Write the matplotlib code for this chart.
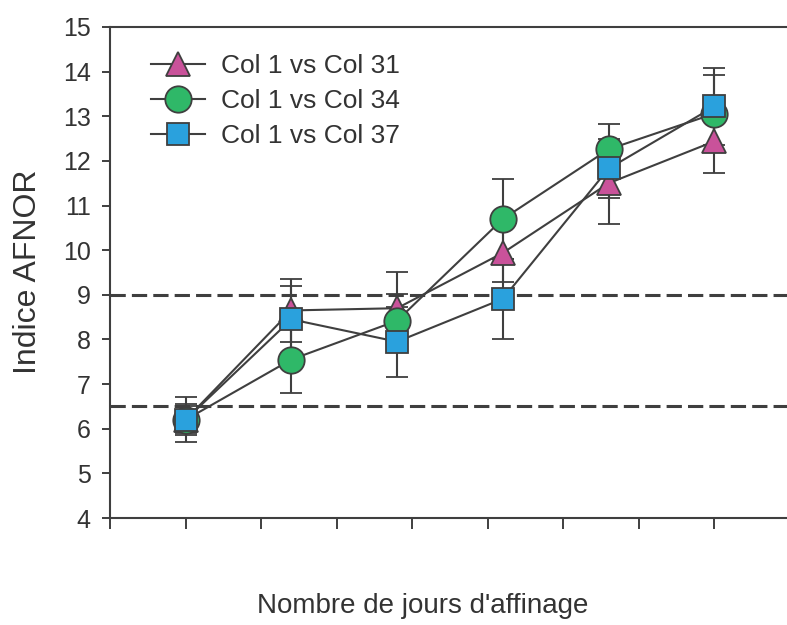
import matplotlib.pyplot as plt

plt.rcParams['font.family'] = ['Liberation Sans', 'DejaVu Sans']

# jours d'affinage
jours = [5, 12, 19, 26, 33, 40]

# indice AFNOR moyen et écart-type par essai
col31 = [6.2, 8.65, 8.7, 9.94, 11.5, 12.44]
col31_err = [0.3, 0.7, 0.8, 0.65, 0.92, 0.72]
col34 = [6.2, 7.55, 8.42, 10.7, 12.26, 13.06]
col34_err = [0.35, 0.75, 0.6, 0.9, 0.56, 0.87]
col37 = [6.2, 8.45, 7.95, 8.91, 11.83, 13.22]
col37_err = [0.5, 0.75, 0.78, 0.9, 0.67, 0.87]

labels = ["Col 1 vs Col 31", "Col 1 vs Col 34", "Col 1 vs Col 37"]
seuils = [9, 6.5]

gris = "#3f3f3f"
fig = plt.figure(figsize=(7.87, 6.25), dpi=100)
ax = fig.add_axes([0.1398, 0.1712, 0.864, 0.7856])

for y in seuils:
    ax.axhline(y, color=gris, lw=2.2, dashes=(5, 2), zorder=1)

series = [
    (col31, col31_err, "^", "#c9529a", 17),
    (col34, col34_err, "o", "#2fb868", 19),
    (col37, col37_err, "s", "#2aa1dd", 16),
]
for (vals, err, mk, coul, ms), lab in zip(series, labels):
    ax.errorbar(jours, vals, yerr=err, fmt="-", color=gris, lw=1.5,
                marker=mk, ms=ms, mfc=coul, mec=gris, mew=1.3,
                ecolor=gris, elinewidth=1.5, capsize=8, capthick=1.5,
                label=lab, zorder=3)

ax.set_xlim(0, 45)
ax.set_ylim(4, 15)
ax.set_yticks(range(4, 16))
ax.set_xticks(range(0, 46, 5))
ax.set_xticklabels([])
ax.tick_params(axis="y", labelsize=18, labelcolor="#333333", color=gris,
               direction="out", length=6, width=1.4, pad=8)
ax.tick_params(axis="x", color=gris, direction="out", length=8, width=1.4)
for s in ["left", "bottom", "top"]:
    ax.spines[s].set_color(gris)
    ax.spines[s].set_linewidth(1.5)
ax.spines["right"].set_visible(False)

handles, labs = ax.get_legend_handles_labels()
handles = [h[0] for h in handles]
leg = ax.legend(handles, labs, loc="upper left", bbox_to_anchor=(0.045, 0.967),
                frameon=False, fontsize=19, handlelength=2.05,
                handletextpad=0.6, labelspacing=0.42, borderaxespad=0)
for t in leg.get_texts():
    t.set_color("#333333")

fig.text(0.036, 0.565, "Indice AFNOR", rotation=90, fontsize=23,
         color="#333333", ha="center", va="center")
fig.text(0.537, 0.03, "Nombre de jours d'affinage", fontsize=20,
         color="#333333", ha="center", va="center")

fig.savefig("out.png", dpi=100)
